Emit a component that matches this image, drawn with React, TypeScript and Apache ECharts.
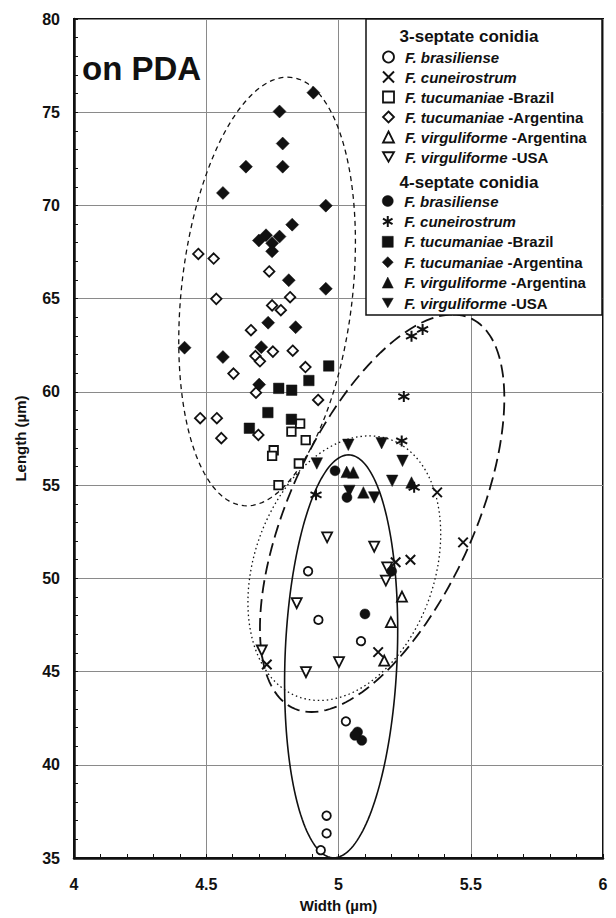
import React, { useEffect, useRef } from "react";
import * as echarts from "echarts";

// ---- axes ----
const X_MIN = 4, X_MAX = 6, X_STEP = 0.5;
const Y_MIN = 35, Y_MAX = 80, Y_STEP = 5;
const X_TITLE = "Width (µm)";
const Y_TITLE = "Length (µm)";
const PANEL_LABEL = "on PDA";
const HEAD_3 = "3-septate conidia";
const HEAD_4 = "4-septate conidia";

// ---- data: [width, length] ----
const brasiliense3 = [[4.885, 50.38], [4.924, 47.77], [5.085, 46.63], [5.028, 42.33], [4.955, 37.27], [4.955, 36.32], [4.933, 35.42]];
const cuneirostrum3 = [[5.373, 54.61], [5.471, 51.93], [5.272, 51.0], [5.216, 50.86], [5.15, 46.04], [4.729, 45.38]];
const tucBrazil3 = [[4.855, 58.3], [4.822, 57.87], [4.876, 57.41], [4.755, 56.87], [4.749, 56.57], [4.85, 56.16], [4.773, 55.0]];
const tucArg3 = [
  [4.47, 67.4], [4.528, 67.15], [4.738, 66.46], [4.538, 64.99], [4.817, 65.08], [4.749, 64.64], [4.782, 64.38],
  [4.669, 63.31], [4.752, 62.16], [4.827, 62.21], [4.686, 61.92], [4.703, 61.64], [4.603, 60.98], [4.875, 61.33],
  [4.688, 59.96], [4.923, 59.57], [4.477, 58.59], [4.54, 58.59], [4.697, 57.69], [4.557, 57.52],
];
const virgArg3 = [[5.24, 49.02], [5.198, 47.65], [5.173, 45.59]];
const virgUSA3 = [[4.957, 52.2], [5.135, 51.7], [5.184, 50.59], [5.179, 49.88], [4.842, 48.67], [4.71, 46.13], [5.002, 45.51], [4.877, 44.97]];

const brasiliense4 = [[4.987, 55.77], [5.032, 54.34], [5.201, 50.38], [5.1, 48.09], [5.072, 41.76], [5.088, 41.31], [5.062, 41.58]];
const cuneirostrum4 = [[4.915, 54.48], [5.276, 62.99], [5.318, 63.35], [5.247, 59.75], [5.239, 57.37], [5.286, 54.88]];
const tucBrazil4 = [[4.963, 61.39], [4.888, 60.61], [4.774, 60.19], [4.823, 60.09], [4.733, 58.89], [4.822, 58.53], [4.663, 58.05]];
const tucArg4 = [
  [4.905, 76.05], [4.777, 75.04], [4.789, 73.32], [4.65, 72.08], [4.789, 72.08], [4.563, 70.67], [4.952, 69.99],
  [4.825, 68.97], [4.699, 68.12], [4.726, 68.4], [4.777, 68.33], [4.749, 67.97], [4.749, 67.54], [4.812, 65.99],
  [4.952, 65.53], [4.734, 63.71], [4.838, 63.47], [4.418, 62.37], [4.708, 62.4], [4.563, 61.87], [4.7, 60.39],
];
const virgArg4 = [[5.031, 55.71], [5.056, 55.68], [5.094, 54.61], [5.276, 55.14]];
const virgUSA4 = [[4.918, 56.16], [5.037, 57.16], [5.163, 57.25], [5.242, 56.3], [5.203, 55.23], [5.041, 54.69], [5.135, 54.34]];

// ---- ellipses: center, offset from center to top point, horizontal half-chord through center ----
const ellipseCenters = [[4.73, 65.385], [5.165, 53.49], [5.022, 50.545], [5.01, 45.815]];
const ellipseTopOffsets = [[0.077, 11.495], [0.267, 10.66], [0.0945, 7.095], [0.028, 10.805]];
const ellipseHalfWidths = [0.325, 0.377, 0.352, 0.212];

// ---- series labels ----
const species = ["F. brasiliense", "F. cuneirostrum", "F. tucumaniae", "F. tucumaniae", "F. virguliforme", "F. virguliforme"];
const origins = ["", "", "-Brazil", "-Argentina", "-Argentina", "-USA"];

const INK = "#111";
const FONT = "'Liberation Sans', Arial, sans-serif";
const CROSS = "path://M0,0L10,10M10,0L0,10";
const STAR = "path://M5,0L5,10M0.67,2.5L9.33,7.5M0.67,7.5L9.33,2.5";
const INV_TRI = "path://M0,0L10,0L5,8.66Z";

const ellipseStyles = [
  { width: 1.3, dash: [5, 4] },
  { width: 1.8, dash: [13, 6] },
  { width: 1.3, dash: [1.5, 3] },
  { width: 1.6, dash: null as number[] | null },
];

export default function App() {
  const ref = useRef<HTMLDivElement>(null);
  useEffect(() => {
    if (!ref.current) return;
    const chart = echarts.init(ref.current, null, { renderer: "svg" });

    const open = { color: "#fff", borderColor: INK, borderWidth: 1.8, opacity: 1 };
    const filled = { color: INK, borderColor: INK, borderWidth: 0.5, opacity: 1 };
    const lines = { color: INK, borderColor: INK, borderWidth: 2, opacity: 1 };

    const defs3 = [
      { data: brasiliense3, symbol: "circle", size: 8.5, style: open },
      { data: cuneirostrum3, symbol: CROSS, size: 9.5, style: lines },
      { data: tucBrazil3, symbol: "rect", size: 8.5, style: open },
      { data: tucArg3, symbol: "diamond", size: 10.5, style: open },
      { data: virgArg3, symbol: "triangle", size: 10, style: open },
      { data: virgUSA3, symbol: INV_TRI, size: 10, style: open },
    ];
    const defs4 = [
      { data: brasiliense4, symbol: "circle", size: 10, style: filled },
      { data: cuneirostrum4, symbol: STAR, size: 11, style: lines },
      { data: tucBrazil4, symbol: "rect", size: 10.5, style: filled },
      { data: tucArg4, symbol: "diamond", size: 13, style: filled },
      { data: virgArg4, symbol: "triangle", size: 11.5, style: filled },
      { data: virgUSA4, symbol: INV_TRI, size: 11.5, style: filled },
    ];

    const labelMap: Record<string, [string, string]> = {};
    const names3: string[] = [];
    const names4: string[] = [];
    const scatter: any[] = [];
    defs3.forEach((d, i) => {
      const n = `3s ${i}`;
      names3.push(n);
      labelMap[n] = [species[i], origins[i]];
      scatter.push({
        type: "scatter", name: n, data: d.data, symbol: d.symbol, symbolSize: d.size,
        itemStyle: d.style, z: 3, emphasis: { disabled: true },
      });
    });
    defs4.forEach((d, i) => {
      const n = `4s ${i}`;
      names4.push(n);
      labelMap[n] = [species[i], origins[i]];
      scatter.push({
        type: "scatter", name: n, data: d.data, symbol: d.symbol, symbolSize: d.size,
        itemStyle: d.style, z: 4, emphasis: { disabled: true },
      });
    });

    const ellipseData = ellipseCenters.map((c, i) => [c[0], c[1], ellipseTopOffsets[i][0], ellipseTopOffsets[i][1], ellipseHalfWidths[i]]);

    const legendCommon = {
      orient: "vertical" as const,
      left: 382,
      padding: 0,
      itemWidth: 11,
      itemHeight: 11,
      selectedMode: false,
      formatter: (name: string) => {
        const [sp, or] = labelMap[name];
        return or ? `{g|}{i|${sp}}{n| ${or}}` : `{g|}{i|${sp}}`;
      },
      textStyle: {
        color: INK,
        fontFamily: FONT,
        fontSize: 15,
        fontWeight: "bold",
        lineHeight: 15,
        rich: {
          g: { width: 6, height: 15 },
          i: { fontStyle: "italic", fontWeight: "bold", fontSize: 15, color: INK, fontFamily: FONT },
          n: { fontWeight: "bold", fontSize: 15, color: INK, fontFamily: FONT },
        },
      },
    };
    const legendItem = (n: string, i: number, defs: any[]) => ({
      name: n,
      itemStyle: { borderWidth: defs[i].style.borderWidth, borderColor: INK, color: defs[i].style.color, opacity: 1 },
    });

    const option: any = {
      animation: false,
      backgroundColor: "#fff",
      textStyle: { fontFamily: FONT },
      grid: { left: 74, right: 13, top: 19, bottom: 58, show: true, borderColor: INK, borderWidth: 2, backgroundColor: "transparent" },
      xAxis: {
        type: "value", min: X_MIN, max: X_MAX, interval: X_STEP,
        name: X_TITLE, nameLocation: "middle", nameGap: 40,
        nameTextStyle: { color: INK, fontSize: 15, fontWeight: "bold" },
        axisLine: { show: true, lineStyle: { color: INK, width: 2.5 } },
        axisTick: { show: true, inside: true, length: 4, lineStyle: { color: INK } },
        minorTick: { show: true, splitNumber: 5, length: 4, lineStyle: { color: INK } },
        axisLabel: { color: INK, fontSize: 16, fontWeight: "bold", margin: 18 },
        splitLine: { show: true, lineStyle: { color: "#8a8a8a", width: 1 } },
      },
      yAxis: {
        type: "value", min: Y_MIN, max: Y_MAX, interval: Y_STEP,
        name: Y_TITLE, nameLocation: "middle", nameGap: 46,
        nameTextStyle: { color: INK, fontSize: 15, fontWeight: "bold" },
        axisLine: { show: true, lineStyle: { color: INK, width: 2.5 } },
        axisTick: { show: true, inside: true, length: 4, lineStyle: { color: INK } },
        minorTick: { show: true, splitNumber: 5, length: 4, lineStyle: { color: INK } },
        axisLabel: { color: INK, fontSize: 16, fontWeight: "bold", margin: 14 },
        splitLine: { show: true, lineStyle: { color: "#8a8a8a", width: 1 } },
      },
      legend: [
        { ...legendCommon, top: 49.5, itemGap: 5, data: names3.map((n, i) => legendItem(n, i, defs3)) },
        { ...legendCommon, top: 193.5, itemGap: 5.4, data: names4.map((n, i) => legendItem(n, i, defs4)) },
      ],
      graphic: [
        { type: "rect", z: 3, shape: { x: 366, y: 19, width: 236, height: 296 }, style: { fill: "#fff", stroke: INK, lineWidth: 1.5 } },
        { type: "text", z: 5, x: 469, y: 36, style: { text: HEAD_3, fill: INK, font: `bold 17px ${FONT}`, textAlign: "center", textVerticalAlign: "middle" } },
        { type: "text", z: 5, x: 469, y: 182, style: { text: HEAD_4, fill: INK, font: `bold 17px ${FONT}`, textAlign: "center", textVerticalAlign: "middle" } },
        { type: "text", z: 5, x: 82, y: 68, style: { text: PANEL_LABEL, fill: INK, font: `bold 33px ${FONT}`, textAlign: "left", textVerticalAlign: "middle" } },
      ],
      series: [
        {
          type: "custom",
          name: "ellipses",
          z: 2,
          silent: true,
          clip: true,
          encode: { x: 0, y: 1 },
          data: ellipseData,
          renderItem: (params: any, api: any) => {
            const cx = api.value(0), cy = api.value(1), ax = api.value(2), ay = api.value(3), bx = api.value(4);
            const st = ellipseStyles[params.dataIndex];
            const pts: number[][] = [];
            const N = 180;
            for (let k = 0; k <= N; k++) {
              const t = (k / N) * Math.PI * 2;
              pts.push(api.coord([cx + ax * Math.cos(t) + bx * Math.sin(t), cy + ay * Math.cos(t)]));
            }
            return {
              type: "polyline",
              shape: { points: pts },
              style: { fill: "none", stroke: INK, lineWidth: st.width, lineDash: st.dash || undefined },
            };
          },
        },
        ...scatter,
      ],
    };
    chart.setOption(option);
    return () => chart.dispose();
  }, []);
  return <div ref={ref} style={{ position: "fixed", left: 0, top: 0, width: 616, height: 918, background: "#fff" }} />;
}
